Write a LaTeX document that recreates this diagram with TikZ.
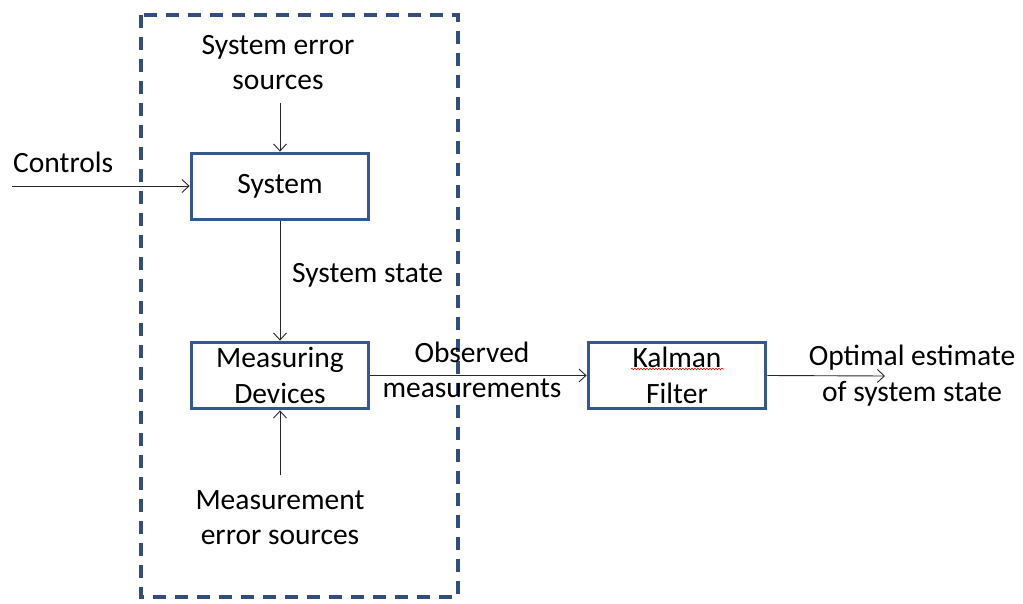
\documentclass[tikz,border=0pt]{standalone}
\usepackage{fontspec}
\setmainfont{Carlito}
\usetikzlibrary{arrows.meta,decorations.pathmorphing}
\definecolor{boxblue}{RGB}{52,88,140}
\definecolor{dashblue}{RGB}{50,78,125}
\definecolor{linegray}{RGB}{40,40,40}
\begin{document}
\begin{tikzpicture}[x=1pt,y=-1pt,
  blk/.style={draw=boxblue, line width=3.8pt, minimum width=177pt, minimum height=66pt, inner sep=0pt, align=center, font=\fontsize{29.5}{35.5}\selectfont},
  lbl/.style={inner sep=0pt, align=center, font=\fontsize{29.5}{35.5}\selectfont},
  conn/.style={draw=linegray, line width=0.9pt, -{Straight Barb[length=7pt,width=13pt,line width=0.9pt]}}
]
\useasboundingbox (0,0) rectangle (1023,604);
\fill[white] (0,0) rectangle (1023,604);
% dashed enclosure
\draw[dashblue, line width=3.3pt, dash pattern=on 13pt off 9pt] (141,15) rectangle (458,597);
% blocks
\node[blk] (sys) at (280,186.5) {System};
\node[blk] (meas) at (280,375.5) {Measuring\\Devices};
\node[blk] (kal) at (677,375.5) {Kalman\\Filter};
% labels
\node[lbl] (ses) at (278,62.5) {System error\\sources};
\node[lbl] (mes) at (280,517.5) {Measurement\\error sources};
\node[lbl, anchor=west] (ctl) at (13,162) {Controls};
\node[lbl, anchor=west] (sst) at (292,275) {System state};
\node[lbl] (obs) at (472,370) {Observed\\measurements};
\node[lbl] (opt) at (912,375.5) {Optimal estimate\\of system state};
% connector endpoints
\coordinate (cin) at (12,186);
\coordinate (ses0) at (280,103);
\coordinate (mes0) at (280,475);
\coordinate (oout) at (885,376);
% connectors
\draw[conn] (cin) -- (sys.west |- cin);
\draw[conn] (ses0) -- (sys.north);
\draw[conn] (sys.south) -- (meas.north);
\draw[conn] (mes0) -- (meas.south);
\draw[conn] (meas.east) -- (kal.west);
\draw[conn] (kal.east) -- (oout);
% spell-check underline
\draw[red, line width=0.6pt, decorate, decoration={snake, amplitude=0.8pt, segment length=3pt}] (631,369) -- (724,369);
\end{tikzpicture}
\end{document}
